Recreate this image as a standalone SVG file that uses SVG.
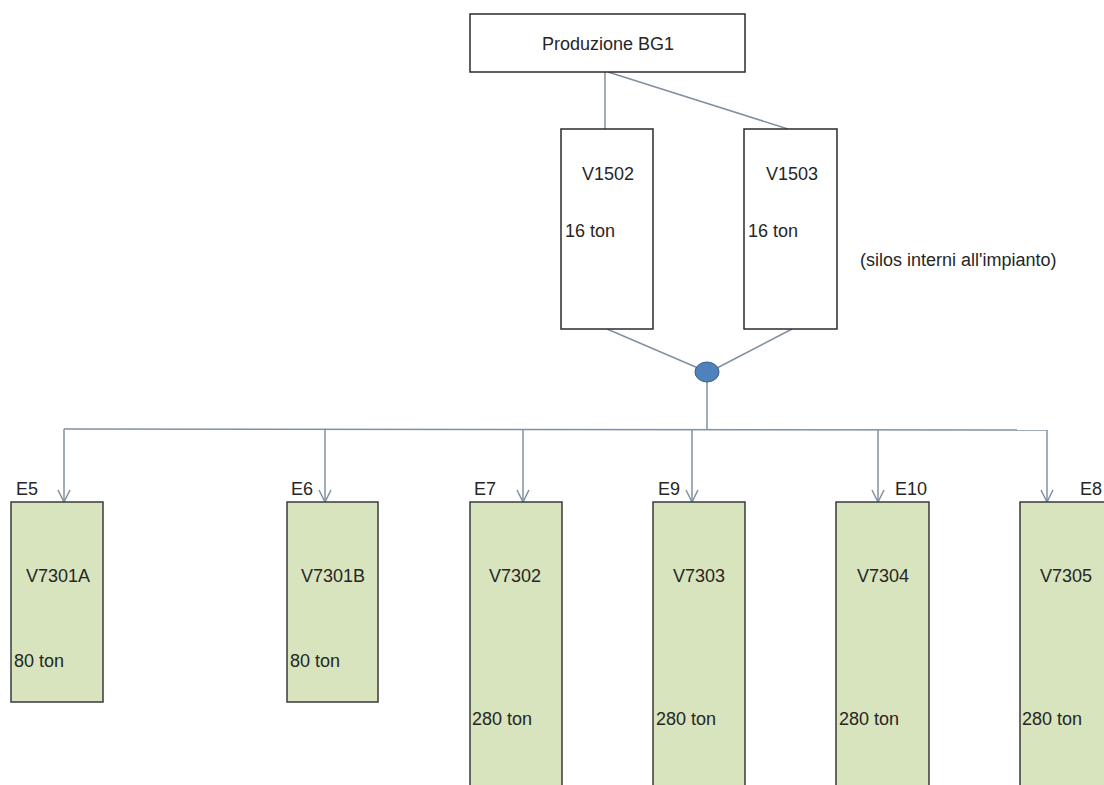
<svg xmlns="http://www.w3.org/2000/svg" width="1104" height="785" viewBox="0 0 1104 785">
<defs>
<style>
.box{fill:#ffffff;stroke:#2b2b2b;stroke-width:1.5}
.tank{fill:#d7e4bd;stroke:#3a3a3a;stroke-width:1.5}
.t{font-family:"Liberation Sans",Arial,sans-serif;font-size:18px;fill:#262626}
.conn{fill:none;stroke:#8190a0;stroke-width:1.5}
</style>
<marker id="arr" viewBox="0 0 14 14" refX="13" refY="7" markerWidth="14" markerHeight="14" markerUnits="userSpaceOnUse" orient="auto">
<path d="M1,1 L13,7 L1,13" fill="none" stroke="#8190a0" stroke-width="1.5"/>
</marker>
</defs>
<rect width="1104" height="785" fill="#ffffff"/>
<g id="connectors">
<line class="conn" x1="605" y1="72" x2="605" y2="129"/>
<line class="conn" x1="608" y1="72" x2="788" y2="129"/>
<line class="conn" x1="607" y1="329" x2="698" y2="368"/>
<line class="conn" x1="792" y1="329" x2="717" y2="368"/>
<line class="conn" x1="707" y1="381" x2="707" y2="430"/>
<line class="conn" x1="64" y1="429" x2="1047" y2="430"/>
<line class="conn" x1="64" y1="429" x2="64" y2="502" marker-end="url(#arr)"/>
<line class="conn" x1="325" y1="429" x2="325" y2="502" marker-end="url(#arr)"/>
<line class="conn" x1="523" y1="429" x2="523" y2="502" marker-end="url(#arr)"/>
<line class="conn" x1="692" y1="429" x2="692" y2="502" marker-end="url(#arr)"/>
<line class="conn" x1="878" y1="430" x2="878" y2="502" marker-end="url(#arr)"/>
<line class="conn" x1="1047" y1="430" x2="1047" y2="502" marker-end="url(#arr)"/>
</g>
<g id="produzione">
<rect class="box" x="470" y="14" width="275" height="58"/>
<text class="t" x="608" y="50" text-anchor="middle">Produzione BG1</text>
</g>
<g id="V1502">
<rect class="box" x="561" y="129" width="92" height="200"/>
<text class="t" x="582" y="180">V1502</text>
<text class="t" x="565" y="237">16 ton</text>
</g>
<g id="V1503">
<rect class="box" x="744" y="129" width="93" height="200"/>
<text class="t" x="766" y="180">V1503</text>
<text class="t" x="748" y="237">16 ton</text>
</g>
<g id="note">
<text class="t" x="860" y="266" font-size="19">(silos interni all'impianto)</text>
</g>
<g id="junction">
<ellipse cx="707" cy="372" rx="12" ry="10" fill="#4f81bd" stroke="#385d8a" stroke-width="1"/>
</g>
<g id="V7301A">
<rect class="tank" x="11" y="502" width="92" height="200"/>
<text class="t" x="16" y="495">E5</text>
<text class="t" x="26" y="582">V7301A</text>
<text class="t" x="14" y="667">80 ton</text>
</g>
<g id="V7301B">
<rect class="tank" x="287" y="502" width="91" height="200"/>
<text class="t" x="291" y="495">E6</text>
<text class="t" x="301" y="582">V7301B</text>
<text class="t" x="290" y="667">80 ton</text>
</g>
<g id="V7302">
<rect class="tank" x="470" y="502" width="92" height="300"/>
<text class="t" x="474" y="495">E7</text>
<text class="t" x="489" y="582">V7302</text>
<text class="t" x="472" y="725">280 ton</text>
</g>
<g id="V7303">
<rect class="tank" x="653" y="502" width="92" height="300"/>
<text class="t" x="658" y="495">E9</text>
<text class="t" x="673" y="582">V7303</text>
<text class="t" x="656" y="725">280 ton</text>
</g>
<g id="V7304">
<rect class="tank" x="836" y="502" width="93" height="300"/>
<text class="t" x="895" y="495">E10</text>
<text class="t" x="857" y="582">V7304</text>
<text class="t" x="839" y="725">280 ton</text>
</g>
<g id="V7305">
<rect class="tank" x="1020" y="502" width="100" height="300"/>
<text class="t" x="1080" y="495">E8</text>
<text class="t" x="1040" y="582">V7305</text>
<text class="t" x="1022" y="725">280 ton</text>
</g>
</svg>
